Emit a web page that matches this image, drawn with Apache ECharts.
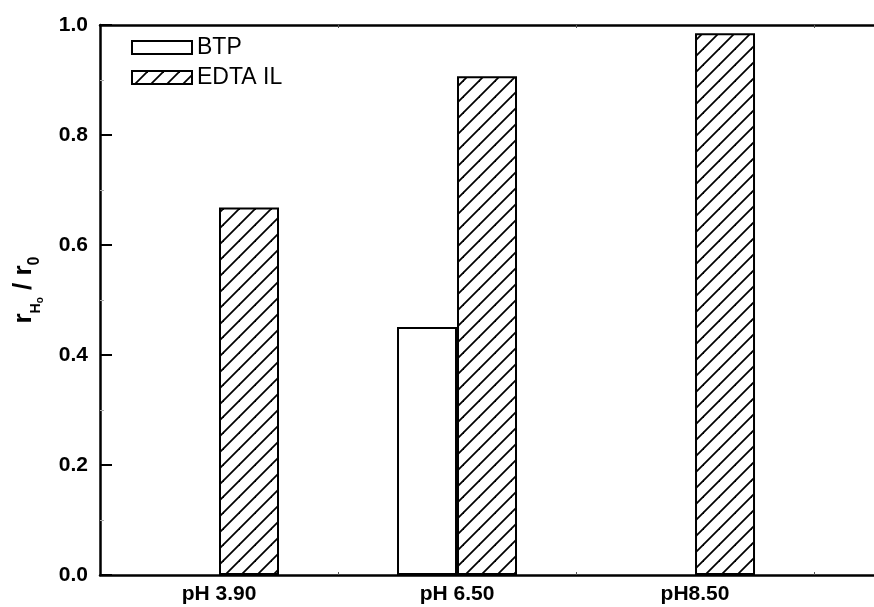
<!DOCTYPE html>
<html>
<head>
<meta charset="utf-8">
<script src="https://cdn.jsdelivr.net/npm/echarts@6/dist/echarts.min.js"></script>
<style>
  html, body { margin: 0; padding: 0; background: #fff; overflow: hidden; }
  #chart { width: 874px; height: 607px; }
</style>
</head>
<body>
<div id="chart"></div>
<script>
// pH conditions along the x axis
const categories = ['pH 3.90', 'pH 6.50', 'pH8.50'];
// ratio r_H0 / r_0 for each adsorbent
const btpValues = [null, 0.451, null];
const edtaValues = [0.668, 0.907, 0.985];
const seriesNames = ['BTP', 'EDTA IL'];
const yTicks = { min: 0, max: 1, interval: 0.2 };
// x range in category units: the plot runs on past the last group
const xRange = { min: 0.5, max: 3.752 };

const FONT = 'Liberation Sans, Arial, sans-serif';

// category i sits at x = i + 1; boundaries between groups get the ticks
const positions = categories.map((_, i) => i + 1);
const boundaries = positions.map(p => p + 0.5);
const toPairs = vals => vals.map((v, i) => (v == null ? null : [positions[i], v]));

// Diagonal "/" hatching used for the EDTA IL bars
function makeHatch() {
  const s = 16;
  const c = document.createElement('canvas');
  c.width = s; c.height = s;
  const g = c.getContext('2d');
  g.fillStyle = '#fff';
  g.fillRect(0, 0, s, s);
  g.strokeStyle = '#000';
  g.lineWidth = 1.8;
  g.lineCap = 'square';
  for (const off of [-s, 0, s]) {
    g.beginPath();
    g.moveTo(off, s);
    g.lineTo(off + s, 0);
    g.stroke();
  }
  return c;
}
const hatch = makeHatch();

const chart = echarts.init(document.getElementById('chart'), null, { renderer: 'canvas' });

const plainAxisLine = { show: true, onZero: false, lineStyle: { color: '#000', width: 2.5 } };

chart.setOption({
  animation: false,
  backgroundColor: '#fff',
  grid: {
    left: 100, right: 0, top: 25, bottom: 32,
    outerBoundsMode: 'none',
    containLabel: false
  },
  legend: {
    orient: 'vertical',
    left: 126, top: 31,
    icon: 'rect',
    itemWidth: 60, itemHeight: 13, itemGap: 7,
    textStyle: { fontFamily: FONT, fontSize: 23, color: '#000', lineHeight: 20 },
    data: seriesNames
  },
  xAxis: [
    {
      type: 'value',
      min: xRange.min, max: xRange.max,
      axisLine: plainAxisLine,
      axisTick: { show: true, inside: true, length: 3, customValues: boundaries, lineStyle: { color: '#555', width: 1 } },
      axisLabel: {
        fontFamily: FONT, fontSize: 21, fontWeight: 'bold', color: '#000', margin: 9,
        customValues: positions,
        formatter: v => categories[Math.round(v) - 1] || ''
      },
      splitLine: { show: false }
    },
    {
      type: 'value',
      position: 'top',
      min: xRange.min, max: xRange.max,
      axisLine: plainAxisLine,
      axisTick: { show: true, inside: true, length: 3, customValues: boundaries, lineStyle: { color: '#555', width: 1 } },
      axisLabel: { show: false },
      splitLine: { show: false }
    }
  ],
  yAxis: {
    type: 'value',
    min: yTicks.min, max: yTicks.max, interval: yTicks.interval,
    name: '{r|r}{h|H}{o|o}{r| / r}{z|0}',
    nameLocation: 'middle',
    nameGap: 55,
    nameRotate: 90,
    nameTextStyle: {
      fontFamily: FONT, color: '#000', padding: [0, 0, 0, 20],
      rich: {
        r: { fontFamily: FONT, fontSize: 26, fontWeight: 'bold', color: '#000', verticalAlign: 'bottom', padding: [0, 0, 8, 0] },
        h: { fontFamily: FONT, fontSize: 14, fontWeight: 'bold', color: '#000', verticalAlign: 'bottom', padding: [0, 0, 2, 0] },
        o: { fontFamily: FONT, fontSize: 10, fontWeight: 'bold', color: '#000', verticalAlign: 'bottom', padding: [0, 0, 0, 0] },
        z: { fontFamily: FONT, fontSize: 16, fontWeight: 'bold', color: '#000', verticalAlign: 'bottom', padding: [0, 0, 2, 0] }
      }
    },
    axisLine: plainAxisLine,
    axisTick: { show: true, inside: true, length: 12, lineStyle: { color: '#000', width: 2 } },
    minorTick: { show: true, splitNumber: 2, length: 4, lineStyle: { color: '#aaa', width: 1 } },
    axisLabel: {
      fontFamily: FONT, fontSize: 21, fontWeight: 'bold', color: '#000', margin: 12,
      formatter: v => v.toFixed(1)
    },
    splitLine: { show: false }
  },
  series: [
    {
      name: seriesNames[0],
      type: 'bar',
      data: toPairs(btpValues),
      barWidth: 60,
      barGap: '0%',
      itemStyle: { color: '#fff', borderColor: '#000', borderWidth: 2 }
    },
    {
      name: seriesNames[1],
      type: 'bar',
      data: toPairs(edtaValues),
      barWidth: 60,
      barGap: '0%',
      itemStyle: { color: { image: hatch, repeat: 'repeat' }, borderColor: '#000', borderWidth: 2 }
    }
  ]
});
</script>
</body>
</html>
